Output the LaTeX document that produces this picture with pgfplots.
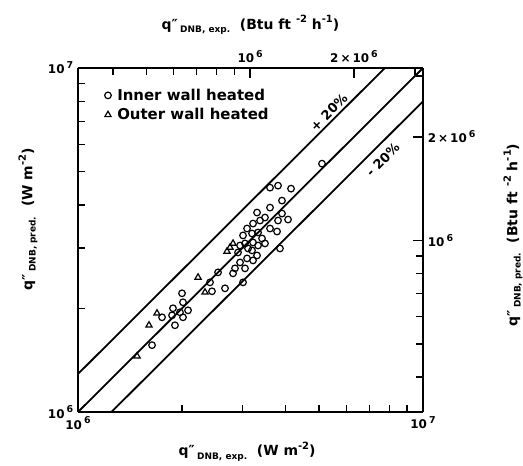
\documentclass[border=0pt]{standalone}
\usepackage{fontspec}
\setmainfont{DejaVu Sans}
\usepackage{pgfplots}
\pgfplotsset{compat=1.18}
\newcommand{\qpp}{q″}
\newcommand{\lsub}[1]{\raisebox{-0.45ex}{\fontsize{9}{10}\selectfont #1}}
\newcommand{\lsup}[1]{\raisebox{0.85ex}{\fontsize{10}{11}\selectfont #1}}
\newcommand{\tsup}[1]{\raisebox{0.8ex}{\fontsize{9.5}{11}\selectfont #1}}
\begin{document}
\fontsize{14}{16}\selectfont\bfseries
\begin{tikzpicture}
\begin{axis}[name=ax,
  scale only axis, width=345bp, height=344bp,
  xmode=log, ymode=log,
  xmin=1e6, xmax=1e7, ymin=1e6, ymax=1e7,
  axis x line*=bottom, axis y line*=left,
  xtick={1e6,1e7}, ytick={1e6,1e7},
  xticklabels={10\,\tsup{6}, 10\,\tsup{7}},
  yticklabels={10\,\tsup{6}, 10\,\tsup{7}},
  minor xtick={2e6,3e6,4e6,5e6,6e6,7e6,8e6,9e6},
  minor ytick={2e6,3e6,4e6,5e6,6e6,7e6,8e6,9e6},
  tick align=inside,
  major tick length=10bp, minor tick length=7bp,
  every tick/.style={black, line width=1.5bp},
  axis line style={line width=1.6bp, -},
  tick label style={font=\fontsize{12}{14}\selectfont\bfseries},
  xlabel={\qpp\,\lsub{DNB, exp.}\ \ (W m\lsup{-2})},
  ylabel={\qpp\,\lsub{DNB, pred.}\ \ (W m\lsup{-2})},
  x label style={at={(axis description cs:0.49,-0.115)}, anchor=center, font=\fontsize{14}{16}\selectfont\bfseries},
  y label style={at={(axis description cs:-0.145,0.56)}, anchor=center, rotate=0, font=\fontsize{14}{16}\selectfont\bfseries},
  legend style={at={(axis description cs:0.068,0.952)}, anchor=north west,
    draw=none, fill=none, font=\fontsize{15}{17}\selectfont\bfseries, row sep=2bp},
  legend cell align=left,
]
\addplot[only marks, mark=o, mark size=3.3bp, line width=1.2bp, black] coordinates {
(5.095e6,5.27e6) (3.602e6,4.489e6) (3.800e6,4.549e6) (4.144e6,4.459e6)
(3.902e6,4.116e6) (3.602e6,3.928e6) (3.303e6,3.800e6) (3.902e6,3.775e6)
(4.062e6,3.626e6) (3.800e6,3.602e6) (3.483e6,3.675e6) (3.370e6,3.602e6)
(3.216e6,3.530e6) (3.775e6,3.347e6) (3.483e6,3.090e6) (3.850e6,2.988e6)
(3.090e6,3.415e6) (3.008e6,3.260e6) (3.194e6,3.303e6) (3.325e6,3.325e6)
(3.216e6,3.110e6) (3.048e6,3.090e6) (3.194e6,2.949e6) (2.909e6,2.909e6)
(3.090e6,2.795e6) (3.216e6,2.758e6) (2.949e6,2.721e6) (2.851e6,2.615e6)
(3.048e6,2.615e6) (3.303e6,2.851e6) (3.008e6,2.381e6) (2.667e6,2.288e6)
(2.814e6,2.529e6) (2.546e6,2.546e6) (2.413e6,2.381e6) (2.002e6,2.213e6)
(2.015e6,2.084e6) (1.885e6,2.002e6) (2.084e6,1.975e6) (1.975e6,1.949e6)
(2.015e6,1.885e6) (1.873e6,1.910e6) (1.910e6,1.787e6) (1.752e6,1.885e6)
(1.639e6,1.564e6) (3.602e6,3.415e6) (3.415e6,3.194e6) (3.110e6,2.988e6)
(3.325e6,3.048e6) (2.949e6,3.048e6) (2.445e6,2.243e6)
};
\addlegendentry{\hspace{4bp}Inner wall heated}
\addplot[only marks, mark=triangle, mark size=3.6bp, line width=1.2bp, black] coordinates {
(1.483e6,1.453e6) (1.606e6,1.787e6) (1.694e6,1.936e6) (2.228e6,2.462e6)
(2.334e6,2.228e6) (2.703e6,2.929e6) (2.814e6,3.090e6) (2.758e6,3.008e6)
};
\addlegendentry{\hspace{4bp}Outer wall heated}
\addplot[black, line width=1.8bp, forget plot] coordinates {(1e6,1.29e6) (7.752e6,1e7)};
\addplot[black, line width=1.8bp, forget plot] coordinates {(1e6,1e6) (1e7,1e7)};
\addplot[black, line width=1.8bp, forget plot] coordinates {(1.25e6,1e6) (1e7,8e6)};
\node[rotate=45, anchor=south, inner sep=3bp, font=\fontsize{13}{15}\selectfont\bfseries] at (axis cs:5.54e6,7.15e6) {+ 20\%};
\node[rotate=45, anchor=north, inner sep=8bp, font=\fontsize{13}{15}\selectfont\bfseries] at (axis cs:7.19e6,5.75e6) {- 20\%};
\end{axis}
\begin{axis}[
  scale only axis, width=345bp, height=344bp,
  xmode=log, ymode=log,
  at={(ax.south west)}, anchor=south west,
  xmin=316998, xmax=3169983, ymin=316998, ymax=3169983,
  axis x line*=top, axis y line*=right,
  xtick={1e6,2e6}, ytick={1e6,2e6},
  xticklabels={10\,\tsup{6}, 2\,×\,10\,\tsup{6}},
  yticklabels={10\,\tsup{6}, 2\,×\,10\,\tsup{6}},
  minor xtick={4e5,5e5,6e5,7e5,8e5,9e5,3e6},
  minor ytick={4e5,5e5,6e5,7e5,8e5,9e5,3e6},
  tick align=inside,
  major tick length=10bp, minor tick length=7bp,
  every tick/.style={black, line width=1.5bp},
  axis line style={line width=1.6bp, -},
  tick label style={font=\fontsize{12}{14}\selectfont\bfseries},
]
\end{axis}
\node[font=\fontsize{14}{16}\selectfont\bfseries] at ([yshift=43bp]ax.north) {\qpp\,\lsub{DNB, exp.}\ \ (Btu ft \lsup{-2} h\lsup{-1})};
\node[rotate=90, font=\fontsize{14}{16}\selectfont\bfseries] at ([xshift=90bp,yshift=5bp]ax.east) {\qpp\,\lsub{DNB, pred.}\ \ (Btu ft \lsup{-2} h\lsup{-1})};
\pgfresetboundingbox
\path ([shift={(-78bp,-54bp)}]ax.south west) rectangle ([shift={(100bp,68bp)}]ax.north east);
\end{tikzpicture}
\end{document}
